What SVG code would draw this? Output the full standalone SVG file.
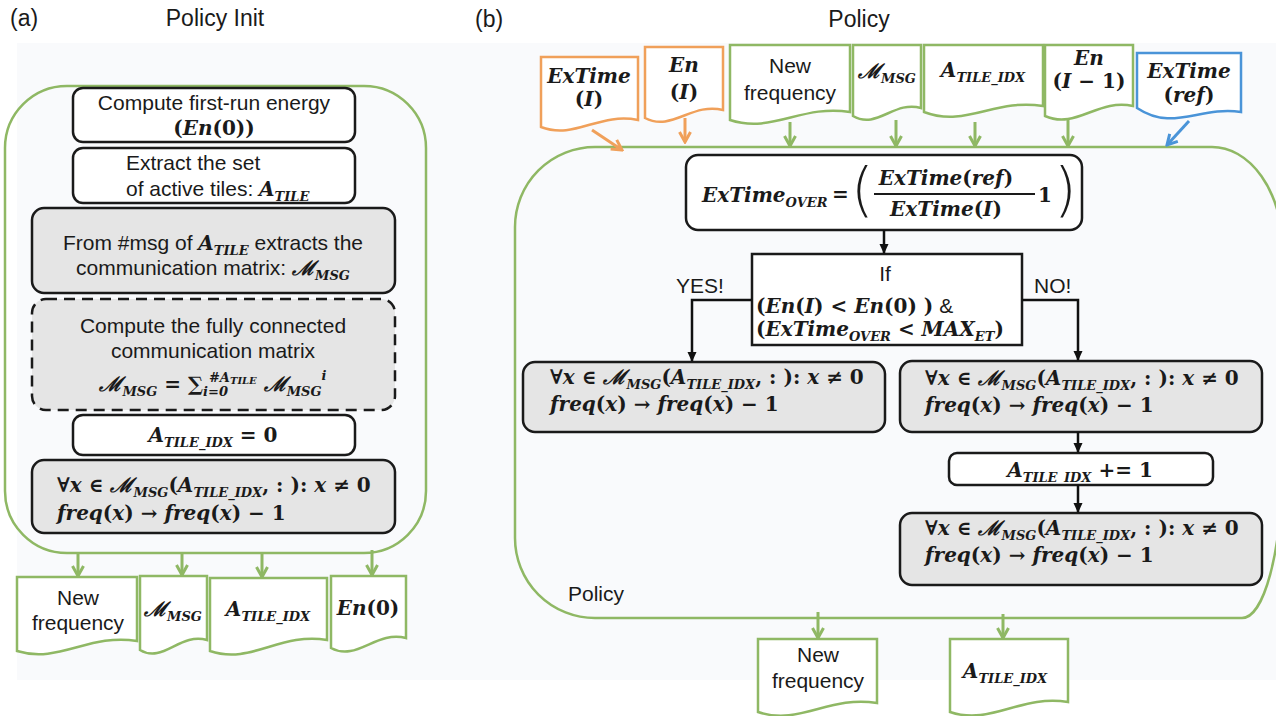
<svg xmlns="http://www.w3.org/2000/svg" width="1276" height="716" viewBox="0 0 1276 716">
<defs>
<style>
.t{font-family:"Liberation Sans",Arial,sans-serif;font-size:21px;fill:#1a1a1a}
.h{font-family:"Liberation Sans",Arial,sans-serif;font-size:23px;fill:#1a1a1a}
.m{font-family:"DejaVu Serif","Liberation Serif",serif;font-weight:bold;font-style:italic;font-size:20px;fill:#1a1a1a}
.n{font-style:normal}
.sb{font-size:13px}
.xs{font-size:10px}
.par{font-family:"DejaVu Sans","Liberation Sans",sans-serif;font-weight:200;font-size:58px;fill:#1a1a1a}
.box{fill:#ffffff;stroke:#1a1a1a;stroke-width:2.5}
.gbox{fill:#e5e5e5;stroke:#1a1a1a;stroke-width:2.5}
.dash{fill:#e5e5e5;stroke:#1a1a1a;stroke-width:2.5;stroke-dasharray:11 7}
.cont{fill:none;stroke:#8fb864;stroke-width:2.5}
.docg{fill:#ffffff;stroke:#8fb864;stroke-width:2.5}
.doco{fill:#ffffff;stroke:#f0a05a;stroke-width:2.5}
.docb{fill:#ffffff;stroke:#4a94d8;stroke-width:2.5}
.cg{fill:none;stroke:#8fb864;stroke-width:3}
.co{fill:none;stroke:#f0a05a;stroke-width:3}
.cb{fill:none;stroke:#4a94d8;stroke-width:3}
.ck{fill:none;stroke:#111111;stroke-width:2.5}
</style>
<marker id="ag" viewBox="0 0 14 14" refX="12" refY="7" markerWidth="14" markerHeight="14" markerUnits="userSpaceOnUse" orient="auto"><path d="M2,1.5 L12,7 L2,12.5" fill="none" stroke="#8fb864" stroke-width="3"/></marker>
<marker id="ao" viewBox="0 0 14 14" refX="12" refY="7" markerWidth="14" markerHeight="14" markerUnits="userSpaceOnUse" orient="auto"><path d="M2,1.5 L12,7 L2,12.5" fill="none" stroke="#f0a05a" stroke-width="3"/></marker>
<marker id="ab" viewBox="0 0 14 14" refX="12" refY="7" markerWidth="14" markerHeight="14" markerUnits="userSpaceOnUse" orient="auto"><path d="M2,1.5 L12,7 L2,12.5" fill="none" stroke="#4a94d8" stroke-width="3"/></marker>
<marker id="ak" viewBox="0 0 10 10" refX="9" refY="5" markerWidth="10" markerHeight="10" markerUnits="userSpaceOnUse" orient="auto"><path d="M0,0.5 L10,5 L0,9.5 Z" fill="#111111"/></marker>
</defs>

<rect x="0" y="0" width="1276" height="716" fill="#ffffff"/>
<rect x="17" y="43" width="1259" height="637" fill="#f9fafc"/>

<g id="titles">
<text class="h" x="10" y="26">(a)</text>
<text class="h" x="215" y="26" text-anchor="middle">Policy Init</text>
<text class="h" x="475" y="27">(b)</text>
<text class="h" x="859" y="27" text-anchor="middle">Policy</text>
</g>

<g id="policy-init-container">
<rect class="cont" x="5" y="86" width="421" height="467" rx="62" ry="62"/>
</g>

<g id="init-energy">
<rect class="box" x="73" y="88" width="282" height="54" rx="10"/>
<text class="t" x="214" y="110" text-anchor="middle">Compute first-run energy</text>
<text class="m" x="214" y="135" text-anchor="middle"><tspan class="n">(</tspan>En<tspan class="n">(0))</tspan></text>
</g>

<g id="init-tiles">
<rect class="box" x="73" y="148" width="282" height="55" rx="10"/>
<text class="t" x="126" y="170">Extract the set</text>
<text class="t" x="126" y="196">of active tiles: <tspan class="m">A<tspan class="sb" dy="5">TILE</tspan></tspan></text>
</g>

<g id="init-msg">
<rect class="gbox" x="32" y="208" width="363" height="85" rx="12"/>
<text class="t" x="213" y="250" text-anchor="middle">From #msg of <tspan class="m">A<tspan class="sb" dy="5">TILE</tspan></tspan><tspan dy="-5"> extracts the</tspan></text>
<text class="t" x="213" y="275" text-anchor="middle">communication matrix:  <tspan class="m">ℳ<tspan class="sb" dy="5">MSG</tspan></tspan></text>
</g>

<g id="init-full">
<rect class="dash" x="32" y="299" width="363" height="111" rx="14"/>
<text class="t" x="213" y="333" text-anchor="middle">Compute the fully connected</text>
<text class="t" x="213" y="358" text-anchor="middle">communication matrix</text>
<text class="m" x="213" y="391" text-anchor="middle">ℳ<tspan class="sb" dy="5">MSG</tspan><tspan class="n" dy="-5"> = ∑</tspan><tspan class="sb" dy="5">i=0</tspan><tspan class="sb" dx="-19" dy="-14">#A</tspan><tspan class="xs" dy="2">TILE</tspan><tspan dy="7"> ℳ</tspan><tspan class="sb" dy="5">MSG</tspan><tspan class="sb" dy="-16">i</tspan></text>
</g>

<g id="init-idx">
<rect class="box" x="73" y="415" width="282" height="40" rx="10"/>
<text class="m" x="213" y="442" text-anchor="middle">A<tspan class="sb" dy="5">TILE_IDX</tspan><tspan class="n" dy="-5"> = 0</tspan></text>
</g>

<g id="init-freq">
<rect class="gbox" x="32" y="460" width="363" height="73" rx="12"/>
<text class="m" x="57" y="492"><tspan class="n">∀</tspan>x <tspan class="n">∈</tspan> ℳ<tspan class="sb" dy="5">MSG</tspan><tspan class="n" dy="-5">(</tspan>A<tspan class="sb" dy="5">TILE_IDX</tspan><tspan class="n" dy="-5">, : ):</tspan> x <tspan class="n">≠ 0</tspan></text>
<text class="m" x="57" y="520">freq<tspan class="n">(</tspan>x<tspan class="n">) → </tspan>freq<tspan class="n">(</tspan>x<tspan class="n">) − 1</tspan></text>
</g>

<g id="init-out-freq">
<path class="docg" d="M17,577 H137 V641 C89,633 59,664 17,651 Z"/>
<text class="t" x="78" y="605" text-anchor="middle">New</text>
<text class="t" x="78" y="630" text-anchor="middle">frequency</text>
</g>
<g id="init-out-msg">
<path class="docg" d="M140,576 H207 V640 C180,632 163,664 140,650 Z"/>
<text class="m" x="173" y="616" text-anchor="middle">ℳ<tspan class="sb" dy="5">MSG</tspan></text>
</g>
<g id="init-out-idx">
<path class="docg" d="M210,578 H327 V640 C280,632 251,665 210,651 Z"/>
<text class="m" x="268" y="616" text-anchor="middle">A<tspan class="sb" dy="5">TILE_IDX</tspan></text>
</g>
<g id="init-out-en">
<path class="docg" d="M331,576 H406 V638 C376,630 357,662 331,648 Z"/>
<text class="m" x="368" y="615" text-anchor="middle">En<tspan class="n">(0)</tspan></text>
</g>

<g id="policy-container">
<path class="cont" d="M595,147 H1212 A70,100 0 0 1 1282,247 V468 A40,150 0 0 1 1242,618 H595 A80,80 0 0 1 515,538 V227 A80,80 0 0 1 595,147 Z"/>
<text class="t" x="568" y="601">Policy</text>
</g>

<g id="in-extime">
<path class="doco" d="M541,57 H638 V120 C599,112 575,140 541,127 Z"/>
<text class="m" x="589" y="83" text-anchor="middle">ExTime</text>
<text class="m" x="589" y="106" text-anchor="middle"><tspan class="n">(</tspan>I<tspan class="n">)</tspan></text>
</g>
<g id="in-en">
<path class="doco" d="M645,47 H723 V110 C692,102 672,132 645,118 Z"/>
<text class="m" x="684" y="72" text-anchor="middle">En</text>
<text class="m" x="684" y="99" text-anchor="middle"><tspan class="n">(</tspan>I<tspan class="n">)</tspan></text>
</g>
<g id="in-freq">
<path class="docg" d="M730,45 H850 V112 C802,104 772,134 730,120 Z"/>
<text class="t" x="790" y="73" text-anchor="middle">New</text>
<text class="t" x="790" y="100" text-anchor="middle">frequency</text>
</g>
<g id="in-msg">
<path class="docg" d="M853,45 H921 V108 C894,100 877,130 853,116 Z"/>
<text class="m" x="887" y="78" text-anchor="middle">ℳ<tspan class="sb" dy="5">MSG</tspan></text>
</g>
<g id="in-idx">
<path class="docg" d="M924,45 H1043 V106 C995,98 966,128 924,112 Z"/>
<text class="m" x="983" y="77" text-anchor="middle">A<tspan class="sb" dy="5">TILE_IDX</tspan></text>
</g>
<g id="in-en-prev">
<path class="docg" d="M1045,45 H1133 V106 C1098,98 1076,130 1045,116 Z"/>
<text class="m" x="1089" y="65" text-anchor="middle">En</text>
<text class="m" x="1089" y="88" text-anchor="middle"><tspan class="n">(</tspan>I<tspan class="n"> − 1)</tspan></text>
</g>
<g id="in-extime-ref">
<path class="docb" d="M1137,53 H1241 V112 C1199,106 1173,132 1137,108 Z"/>
<text class="m" x="1189" y="78" text-anchor="middle">ExTime</text>
<text class="m" x="1189" y="102" text-anchor="middle"><tspan class="n">(</tspan>ref<tspan class="n">)</tspan></text>
</g>

<g id="extime-over">
<rect class="box" x="686" y="155" width="396" height="75" rx="12"/>
<text class="m" x="702" y="202">ExTime<tspan class="sb" dy="5">OVER</tspan></text>
<text class="m n" x="832" y="201">=</text>
<text class="par" x="851" y="210">(</text>
<text class="m" x="946" y="185" text-anchor="middle">ExTime<tspan class="n">(</tspan>ref<tspan class="n">)</tspan></text>
<line x1="874" y1="194" x2="1035" y2="194" stroke="#1a1a1a" stroke-width="2"/>
<text class="m" x="946" y="216" text-anchor="middle">ExTime<tspan class="n">(</tspan>I<tspan class="n">)</tspan></text>
<text class="m n" x="1038" y="202">1</text>
<text class="par" x="1054" y="210">)</text>
</g>

<g id="decision">
<rect x="752" y="254" width="270" height="91" fill="#ffffff" stroke="#1a1a1a" stroke-width="2.5"/>
<text class="t" x="885" y="281" text-anchor="middle">If</text>
<text class="m" x="756" y="313"><tspan class="n">(</tspan>En<tspan class="n">(</tspan>I<tspan class="n">)  &lt;  </tspan>En<tspan class="n">(0) )</tspan><tspan class="t" font-weight="normal" font-style="normal"> &amp;</tspan></text>
<text class="m" x="756" y="336"><tspan class="n">(</tspan>ExTime<tspan class="sb" dy="5">OVER</tspan><tspan class="n" dy="-5"> &lt; </tspan>MAX<tspan class="sb" dy="5">ET</tspan><tspan class="n" dy="-5">)</tspan></text>
</g>

<g id="labels">
<text class="t" x="676" y="293">YES!</text>
<text class="t" x="1034" y="293">NO!</text>
</g>

<g id="yes-freq">
<rect class="gbox" x="523" y="362" width="362" height="70" rx="12"/>
<text class="m" x="550" y="384"><tspan class="n">∀</tspan>x <tspan class="n">∈</tspan> ℳ<tspan class="sb" dy="5">MSG</tspan><tspan class="n" dy="-5">(</tspan>A<tspan class="sb" dy="5">TILE_IDX</tspan><tspan class="n" dy="-5">, : ):</tspan> x <tspan class="n">≠ 0</tspan></text>
<text class="m" x="550" y="411">freq<tspan class="n">(</tspan>x<tspan class="n">) → </tspan>freq<tspan class="n">(</tspan>x<tspan class="n">) − 1</tspan></text>
</g>

<g id="no-freq">
<rect class="gbox" x="900" y="361" width="362" height="71" rx="12"/>
<text class="m" x="925" y="385"><tspan class="n">∀</tspan>x <tspan class="n">∈</tspan> ℳ<tspan class="sb" dy="5">MSG</tspan><tspan class="n" dy="-5">(</tspan>A<tspan class="sb" dy="5">TILE_IDX</tspan><tspan class="n" dy="-5">, : ):</tspan> x <tspan class="n">≠ 0</tspan></text>
<text class="m" x="925" y="412">freq<tspan class="n">(</tspan>x<tspan class="n">) → </tspan>freq<tspan class="n">(</tspan>x<tspan class="n">) − 1</tspan></text>
</g>

<g id="idx-inc">
<rect class="box" x="949" y="453" width="264" height="32" rx="8"/>
<text class="m" x="1080" y="477" text-anchor="middle">A<tspan class="sb" dy="5">TILE_IDX</tspan><tspan class="n" dy="-5"> += 1</tspan></text>
</g>

<g id="no-freq-2">
<rect class="gbox" x="900" y="513" width="362" height="72" rx="12"/>
<text class="m" x="925" y="535"><tspan class="n">∀</tspan>x <tspan class="n">∈</tspan> ℳ<tspan class="sb" dy="5">MSG</tspan><tspan class="n" dy="-5">(</tspan>A<tspan class="sb" dy="5">TILE_IDX</tspan><tspan class="n" dy="-5">, : ):</tspan> x <tspan class="n">≠ 0</tspan></text>
<text class="m" x="925" y="562">freq<tspan class="n">(</tspan>x<tspan class="n">) → </tspan>freq<tspan class="n">(</tspan>x<tspan class="n">) − 1</tspan></text>
</g>

<g id="out-freq">
<path class="docg" d="M758,639 H877 V703 C829,695 800,726 758,712 Z"/>
<text class="t" x="818" y="662" text-anchor="middle">New</text>
<text class="t" x="818" y="688" text-anchor="middle">frequency</text>
</g>
<g id="out-idx">
<path class="docg" d="M950,639 H1068 V702 C1021,694 991,726 950,712 Z"/>
<text class="m" x="1005" y="678" text-anchor="middle">A<tspan class="sb" dy="5">TILE_IDX</tspan></text>
</g>

<g id="connectors">
<line class="cg" x1="78" y1="553" x2="78" y2="576" marker-end="url(#ag)"/>
<line class="cg" x1="182" y1="553" x2="182" y2="575" marker-end="url(#ag)"/>
<line class="cg" x1="262" y1="553" x2="262" y2="577" marker-end="url(#ag)"/>
<line class="cg" x1="372" y1="550" x2="372" y2="575" marker-end="url(#ag)"/>
<line class="co" x1="592" y1="130" x2="622" y2="150" marker-end="url(#ao)"/>
<line class="co" x1="685" y1="118" x2="685" y2="142" marker-end="url(#ao)"/>
<line class="cg" x1="790" y1="122" x2="790" y2="146" marker-end="url(#ag)"/>
<line class="cg" x1="896" y1="120" x2="896" y2="146" marker-end="url(#ag)"/>
<line class="cg" x1="975" y1="122" x2="975" y2="146" marker-end="url(#ag)"/>
<line class="cg" x1="1068" y1="118" x2="1068" y2="146" marker-end="url(#ag)"/>
<line class="cb" x1="1189" y1="121" x2="1167" y2="145" marker-end="url(#ab)"/>
<line class="ck" x1="884" y1="230" x2="884" y2="253" marker-end="url(#ak)"/>
<polyline class="ck" points="752,300 692,300 692,361" marker-end="url(#ak)"/>
<polyline class="ck" points="1022,300 1078,300 1078,360" marker-end="url(#ak)"/>
<line class="ck" x1="1078" y1="432" x2="1078" y2="452" marker-end="url(#ak)"/>
<line class="ck" x1="1078" y1="485" x2="1078" y2="512" marker-end="url(#ak)"/>
<line class="cg" x1="818" y1="612" x2="818" y2="638" marker-end="url(#ag)"/>
<line class="cg" x1="1003" y1="614" x2="1003" y2="638" marker-end="url(#ag)"/>
</g>
</svg>
